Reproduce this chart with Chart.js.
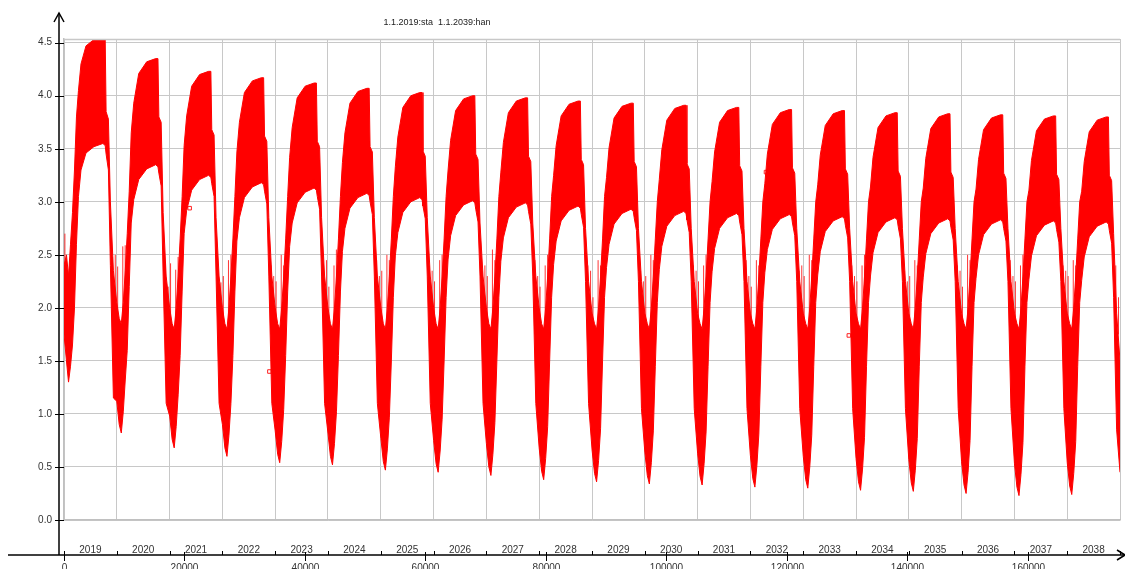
<!DOCTYPE html>
<html>
<head>
<meta charset="utf-8">
<title>1.1.2019:sta 1.1.2039:han</title>
<script src="https://cdn.jsdelivr.net/npm/chart.js@4.4.0/dist/chart.umd.min.js"></script>
<style>
  html, body { margin: 0; padding: 0; background: #fff; }
  #wrap { width: 1125px; height: 569px; }
</style>
</head>
<body>
<div id="wrap"><canvas id="myChart" width="1125" height="569"></canvas></div>
<script>
// values
const titleText = '1.1.2019:sta  1.1.2039:han';
const years = [2019, 2020, 2021, 2022, 2023, 2024, 2025, 2026, 2027, 2028,
               2029, 2030, 2031, 2032, 2033, 2034, 2035, 2036, 2037, 2038];
const xTickLabels = [0, 20000, 40000, 60000, 80000, 100000, 120000, 140000, 160000];
const yTickStep = 0.5;

// hours after 1 January of each year where the band was read
const offsetsH = [0, 410, 750, 1080, 1410, 1740, 2070, 2400, 2820, 3650, 4970, 6460, 6840, 6990, 7370, 7700, 8200];

// upper edge of the red band, one row per year
const upperByYear = [
  [2.40, 2.50, 2.30, 2.60, 2.90, 3.30, 3.80, 4.05, 4.30, 4.47, 4.53, 4.54, 4.54, 3.85, 3.78, 3.00, 2.35],
  [2.05, 1.90, 1.85, 2.05, 2.35, 2.70, 3.10, 3.65, 3.93, 4.21, 4.32, 4.35, 4.35, 3.80, 3.75, 2.90, 2.30],
  [2.00, 1.85, 1.80, 2.00, 2.30, 2.65, 3.05, 3.53, 3.81, 4.09, 4.20, 4.23, 4.23, 3.68, 3.63, 2.85, 2.30],
  [2.00, 1.85, 1.80, 2.00, 2.30, 2.65, 3.05, 3.47, 3.75, 4.03, 4.14, 4.17, 4.17, 3.62, 3.57, 2.85, 2.30],
  [2.00, 1.85, 1.80, 2.00, 2.30, 2.65, 3.05, 3.42, 3.70, 3.98, 4.09, 4.12, 4.12, 3.57, 3.52, 2.85, 2.30],
  [2.00, 1.85, 1.80, 2.00, 2.30, 2.65, 3.05, 3.37, 3.65, 3.93, 4.04, 4.07, 4.07, 3.52, 3.47, 2.85, 2.30],
  [2.00, 1.85, 1.80, 2.00, 2.30, 2.65, 3.05, 3.33, 3.61, 3.89, 4.00, 4.03, 4.03, 3.48, 3.43, 2.85, 2.30],
  [2.00, 1.85, 1.80, 2.00, 2.30, 2.65, 3.05, 3.30, 3.58, 3.86, 3.97, 4.00, 4.00, 3.45, 3.40, 2.80, 2.30],
  [2.00, 1.85, 1.80, 2.00, 2.30, 2.65, 3.05, 3.28, 3.56, 3.84, 3.95, 3.98, 3.98, 3.43, 3.38, 2.80, 2.30],
  [2.00, 1.85, 1.80, 2.00, 2.30, 2.65, 3.05, 3.25, 3.53, 3.81, 3.92, 3.95, 3.95, 3.40, 3.35, 2.75, 2.25],
  [1.95, 1.85, 1.80, 2.00, 2.30, 2.65, 3.05, 3.23, 3.51, 3.79, 3.90, 3.93, 3.93, 3.38, 3.33, 2.75, 2.25],
  [1.95, 1.85, 1.80, 2.00, 2.30, 2.65, 3.00, 3.21, 3.49, 3.77, 3.88, 3.91, 3.91, 3.36, 3.31, 2.75, 2.25],
  [1.95, 1.85, 1.80, 2.00, 2.30, 2.65, 3.00, 3.19, 3.47, 3.75, 3.86, 3.89, 3.89, 3.34, 3.29, 2.75, 2.25],
  [1.95, 1.85, 1.80, 2.00, 2.30, 2.65, 3.00, 3.17, 3.45, 3.73, 3.84, 3.87, 3.87, 3.32, 3.27, 2.75, 2.25],
  [1.95, 1.85, 1.80, 2.00, 2.30, 2.65, 3.00, 3.16, 3.44, 3.72, 3.83, 3.86, 3.86, 3.31, 3.26, 2.75, 2.25],
  [1.95, 1.85, 1.80, 2.00, 2.30, 2.65, 3.00, 3.14, 3.42, 3.70, 3.81, 3.84, 3.84, 3.29, 3.24, 2.75, 2.25],
  [1.95, 1.85, 1.80, 2.00, 2.30, 2.65, 3.00, 3.13, 3.41, 3.69, 3.80, 3.83, 3.83, 3.28, 3.23, 2.75, 2.25],
  [1.95, 1.85, 1.80, 2.00, 2.30, 2.65, 3.00, 3.12, 3.40, 3.68, 3.79, 3.82, 3.82, 3.27, 3.22, 2.75, 2.25],
  [1.95, 1.85, 1.80, 2.00, 2.30, 2.65, 3.00, 3.11, 3.39, 3.67, 3.78, 3.81, 3.81, 3.26, 3.21, 2.75, 2.25],
  [1.95, 1.85, 1.80, 2.00, 2.30, 2.65, 3.00, 3.10, 3.38, 3.66, 3.77, 3.80, 3.80, 3.25, 3.20, 2.70, 1.95]
];

// lower edge of the red band, one row per year
const lowerByYear = [
  [1.75, 1.50, 1.30, 1.45, 1.65, 2.00, 2.60, 3.05, 3.30, 3.46, 3.52, 3.55, 3.53, 3.45, 3.30, 2.40, 1.15],
  [1.12, 0.90, 0.82, 1.02, 1.32, 1.60, 2.20, 2.80, 3.02, 3.21, 3.31, 3.35, 3.33, 3.27, 3.15, 2.30, 1.10],
  [0.98, 0.76, 0.68, 0.88, 1.18, 1.55, 2.15, 2.70, 2.92, 3.11, 3.21, 3.25, 3.23, 3.17, 3.05, 2.30, 1.10],
  [0.90, 0.68, 0.60, 0.80, 1.10, 1.55, 2.15, 2.63, 2.85, 3.04, 3.14, 3.18, 3.16, 3.10, 2.98, 2.30, 1.10],
  [0.84, 0.62, 0.54, 0.74, 1.04, 1.55, 2.15, 2.58, 2.80, 2.99, 3.09, 3.13, 3.11, 3.05, 2.93, 2.30, 1.10],
  [0.82, 0.60, 0.52, 0.72, 1.02, 1.55, 2.15, 2.53, 2.75, 2.94, 3.04, 3.08, 3.06, 3.00, 2.88, 2.30, 1.10],
  [0.77, 0.55, 0.47, 0.67, 0.97, 1.50, 2.10, 2.49, 2.71, 2.90, 3.00, 3.04, 3.02, 2.96, 2.84, 2.30, 1.10],
  [0.75, 0.53, 0.45, 0.65, 0.95, 1.50, 2.10, 2.46, 2.68, 2.87, 2.97, 3.01, 2.99, 2.93, 2.81, 2.30, 1.10],
  [0.72, 0.50, 0.42, 0.62, 0.92, 1.50, 2.10, 2.44, 2.66, 2.85, 2.95, 2.99, 2.97, 2.91, 2.79, 2.30, 1.10],
  [0.68, 0.46, 0.38, 0.58, 0.88, 1.50, 2.10, 2.41, 2.63, 2.82, 2.92, 2.96, 2.94, 2.88, 2.76, 2.25, 1.10],
  [0.66, 0.44, 0.36, 0.56, 0.86, 1.50, 2.10, 2.38, 2.60, 2.79, 2.89, 2.93, 2.91, 2.85, 2.73, 2.25, 1.05],
  [0.64, 0.42, 0.34, 0.54, 0.84, 1.45, 2.05, 2.36, 2.58, 2.77, 2.87, 2.91, 2.89, 2.83, 2.71, 2.25, 1.05],
  [0.63, 0.41, 0.33, 0.53, 0.83, 1.45, 2.05, 2.34, 2.56, 2.75, 2.85, 2.89, 2.87, 2.81, 2.69, 2.25, 1.05],
  [0.61, 0.39, 0.31, 0.51, 0.81, 1.45, 2.05, 2.33, 2.55, 2.74, 2.84, 2.88, 2.86, 2.80, 2.68, 2.25, 1.05],
  [0.60, 0.38, 0.30, 0.50, 0.80, 1.45, 2.05, 2.31, 2.53, 2.72, 2.82, 2.86, 2.84, 2.78, 2.66, 2.25, 1.05],
  [0.58, 0.36, 0.28, 0.48, 0.78, 1.45, 2.05, 2.30, 2.52, 2.71, 2.81, 2.85, 2.83, 2.77, 2.65, 2.25, 1.05],
  [0.57, 0.35, 0.27, 0.47, 0.77, 1.45, 2.05, 2.29, 2.51, 2.70, 2.80, 2.84, 2.82, 2.76, 2.64, 2.25, 1.05],
  [0.55, 0.33, 0.25, 0.45, 0.75, 1.45, 2.05, 2.28, 2.50, 2.69, 2.79, 2.83, 2.81, 2.75, 2.63, 2.25, 1.05],
  [0.53, 0.31, 0.23, 0.43, 0.73, 1.45, 2.05, 2.27, 2.49, 2.68, 2.78, 2.82, 2.80, 2.74, 2.62, 2.25, 1.05],
  [0.54, 0.32, 0.24, 0.44, 0.74, 1.45, 2.05, 2.26, 2.48, 2.67, 2.77, 2.81, 2.79, 2.73, 2.61, 2.10, 0.85]
];

// last reading at 1.1.2039
const endUpper = 1.50;
const endLower = 0.45;

// thin spikes sticking out of the troughs: hours relative to 1 January, tops per trough
const spikeOffsetsH = [-700, -250, 150, 1000, 1400];
const spikeBase = 1.75;
const spikeTopsByYear = [
  [null, null, 2.70, 2.45, 2.60],
  [2.48, 2.50, 2.39, 2.58, 2.59],
  [2.42, 2.20, 2.42, 2.36, 2.48],
  [2.36, 2.24, 2.30, 2.45, 2.50],
  [2.40, 2.30, 2.25, 2.50, 2.40],
  [2.35, 2.45, 2.20, 2.40, 2.55],
  [2.45, 2.30, 2.35, 2.50, 2.45],
  [2.40, 2.35, 2.25, 2.45, 2.50],
  [2.35, 2.40, 2.30, 2.55, 2.45],
  [2.45, 2.30, 2.20, 2.40, 2.50],
  [2.40, 2.35, 2.10, 2.45, 2.40],
  [2.35, 2.25, 2.30, 2.50, 2.45],
  [2.40, 2.35, 2.25, 2.40, 2.50],
  [2.45, 2.30, 2.20, 2.45, 2.40],
  [2.35, 2.40, 2.30, 2.50, 2.45],
  [2.40, 2.30, 2.25, 2.40, 2.50],
  [2.35, 2.25, 2.30, 2.45, 2.40],
  [2.40, 2.35, 2.20, 2.50, 2.45],
  [2.45, 2.30, 2.25, 2.40, 2.50],
  [2.40, 2.35, 2.30, 2.45, 2.40],
  [2.40, 2.10, null, null, null]
];

// little square markers seen on the curve (hour, value)
const markerHours = [0, 20860, 27320, 34100, 55000, 116550, 130300];
const markerValues = [1.84, 2.94, 1.68, 1.40, 2.68, 3.28, 1.74];

// hours since 1.1.2019 at the start of each year
const yearStartH = years.concat([2039]).map(function (yr) {
    return (Date.UTC(yr, 0, 1) - Date.UTC(2019, 0, 1)) / 3600000;
});
const lastHour = yearStartH[yearStartH.length - 1];

const upperPts = [], lowerPts = [];
years.forEach(function (yr, i) {
    offsetsH.forEach(function (h, k) {
        upperPts.push({ x: yearStartH[i] + h, y: upperByYear[i][k] });
        lowerPts.push({ x: yearStartH[i] + h, y: lowerByYear[i][k] });
    });
});
upperPts.push({ x: lastHour, y: endUpper });
lowerPts.push({ x: lastHour, y: endLower });

const spikePts = [];
spikeTopsByYear.forEach(function (row, i) {
    row.forEach(function (top, k) {
        if (top === null) return;
        const h = yearStartH[i] + spikeOffsetsH[k];
        spikePts.push({ x: h, y: spikeBase }, { x: h, y: top }, { x: h, y: null });
    });
});

const markerPts = markerHours.map(function (h, i) { return { x: h, y: markerValues[i] }; });

const FONT = '"Liberation Sans", Arial, sans-serif';

// axes with arrows, year names, title
const decor = {
    id: 'decor',
    afterDraw: function (chart) {
        const ctx = chart.ctx, a = chart.chartArea;
        const xs = chart.scales.x, ys = chart.scales.y;
        const axisX = a.left - 5;
        const axisY = a.bottom + 35;
        ctx.save();

        // top frame line
        ctx.strokeStyle = '#c8c8c8';
        ctx.lineWidth = 1.5;
        ctx.beginPath();
        ctx.moveTo(a.left, a.top + 0.5);
        ctx.lineTo(a.right, a.top + 0.5);
        ctx.stroke();

        // title
        ctx.fillStyle = '#222';
        ctx.font = '9px ' + FONT;
        ctx.textAlign = 'center';
        ctx.textBaseline = 'middle';
        ctx.fillText(titleText, 437, 23);

        // y axis with arrow
        ctx.strokeStyle = '#000';
        ctx.lineWidth = 1.5;
        ctx.beginPath();
        ctx.moveTo(axisX, 13);
        ctx.lineTo(axisX, axisY);
        ctx.stroke();
        ctx.beginPath();
        ctx.moveTo(axisX - 5, 22);
        ctx.lineTo(axisX, 13);
        ctx.lineTo(axisX + 5, 22);
        ctx.stroke();
        ctx.lineWidth = 1;
        ys.ticks.forEach(function (t) {
            const py = Math.round(ys.getPixelForValue(t.value)) + 0.5;
            ctx.beginPath();
            ctx.moveTo(axisX - 4, py);
            ctx.lineTo(a.left, py);
            ctx.stroke();
        });

        // x axis with arrow
        ctx.lineWidth = 1.5;
        ctx.beginPath();
        ctx.moveTo(8, axisY);
        ctx.lineTo(chart.width, axisY);
        ctx.stroke();
        ctx.beginPath();
        ctx.moveTo(chart.width - 8, axisY - 5);
        ctx.lineTo(chart.width, axisY);
        ctx.lineTo(chart.width - 8, axisY + 5);
        ctx.stroke();

        // year ticks and names
        ctx.lineWidth = 1;
        ctx.fillStyle = '#333';
        ctx.font = '10px ' + FONT;
        ctx.textBaseline = 'middle';
        yearStartH.forEach(function (h, i) {
            const px = Math.round(xs.getPixelForValue(h)) + 0.5;
            ctx.beginPath();
            ctx.moveTo(px, axisY - 4);
            ctx.lineTo(px, axisY);
            ctx.stroke();
            if (i < years.length) {
                const nx = xs.getPixelForValue(yearStartH[i + 1]);
                ctx.fillText(String(years[i]), (xs.getPixelForValue(h) + nx) / 2, axisY - 5);
            }
        });

        // hour ticks and labels
        ctx.textBaseline = 'top';
        xTickLabels.forEach(function (v) {
            const px = Math.round(xs.getPixelForValue(v)) + 0.5;
            ctx.beginPath();
            ctx.moveTo(px, axisY - 3);
            ctx.lineTo(px, axisY + 6);
            ctx.stroke();
            ctx.fillText(String(v), px, axisY + 8);
        });
        ctx.restore();
    }
};

document.addEventListener('DOMContentLoaded', function () {
    const ctx = document.getElementById('myChart').getContext('2d');
    const myChart = new Chart(ctx, {
        type: 'line',
        data: {
            datasets: [{
                label: 'lower',
                data: lowerPts,
                borderColor: '#ff0000',
                borderWidth: 1,
                pointRadius: 0,
                fill: false
            }, {
                label: 'upper',
                data: upperPts,
                borderColor: '#ff0000',
                backgroundColor: '#ff0000',
                borderWidth: 1,
                pointRadius: 0,
                fill: '-1'
            }, {
                label: 'spikes',
                data: spikePts,
                borderColor: 'rgba(255, 0, 0, 0.8)',
                borderWidth: 1,
                pointRadius: 0,
                spanGaps: false,
                fill: false
            }, {
                label: 'marks',
                data: markerPts,
                showLine: false,
                pointStyle: 'rect',
                pointRadius: 2.5,
                pointBackgroundColor: '#ffffff',
                pointBorderColor: '#ff2020',
                pointBorderWidth: 1
            }]
        },
        options: {
            responsive: false,
            animation: false,
            layout: { padding: { top: 39, right: 2, bottom: 49, left: 0 } },
            scales: {
                x: {
                    type: 'linear',
                    min: 0,
                    max: lastHour,
                    afterBuildTicks: function (scale) {
                        scale.ticks = yearStartH.map(function (h) { return { value: h }; });
                    },
                    afterFit: function (scale) { scale.height = 0; },
                    ticks: { display: false },
                    grid: { color: '#c8c8c8', lineWidth: 1, drawTicks: false },
                    border: { display: true, color: '#c0c0c0', width: 1.5 }
                },
                y: {
                    min: 0,
                    max: 4.535,
                    afterFit: function (scale) { scale.width = 64; },
                    ticks: {
                        stepSize: yTickStep,
                        includeBounds: false,
                        padding: 12,
                        color: '#333',
                        font: { family: FONT, size: 10 },
                        callback: function (v) { return v.toFixed(1); }
                    },
                    grid: { color: '#c8c8c8', lineWidth: 1, drawTicks: false },
                    border: { display: true, color: '#c0c0c0', width: 1.5 }
                }
            },
            plugins: {
                legend: { display: false },
                title: { display: false },
                tooltip: { enabled: false }
            }
        },
        plugins: [decor]
    });
});
</script>
</body>
</html>
